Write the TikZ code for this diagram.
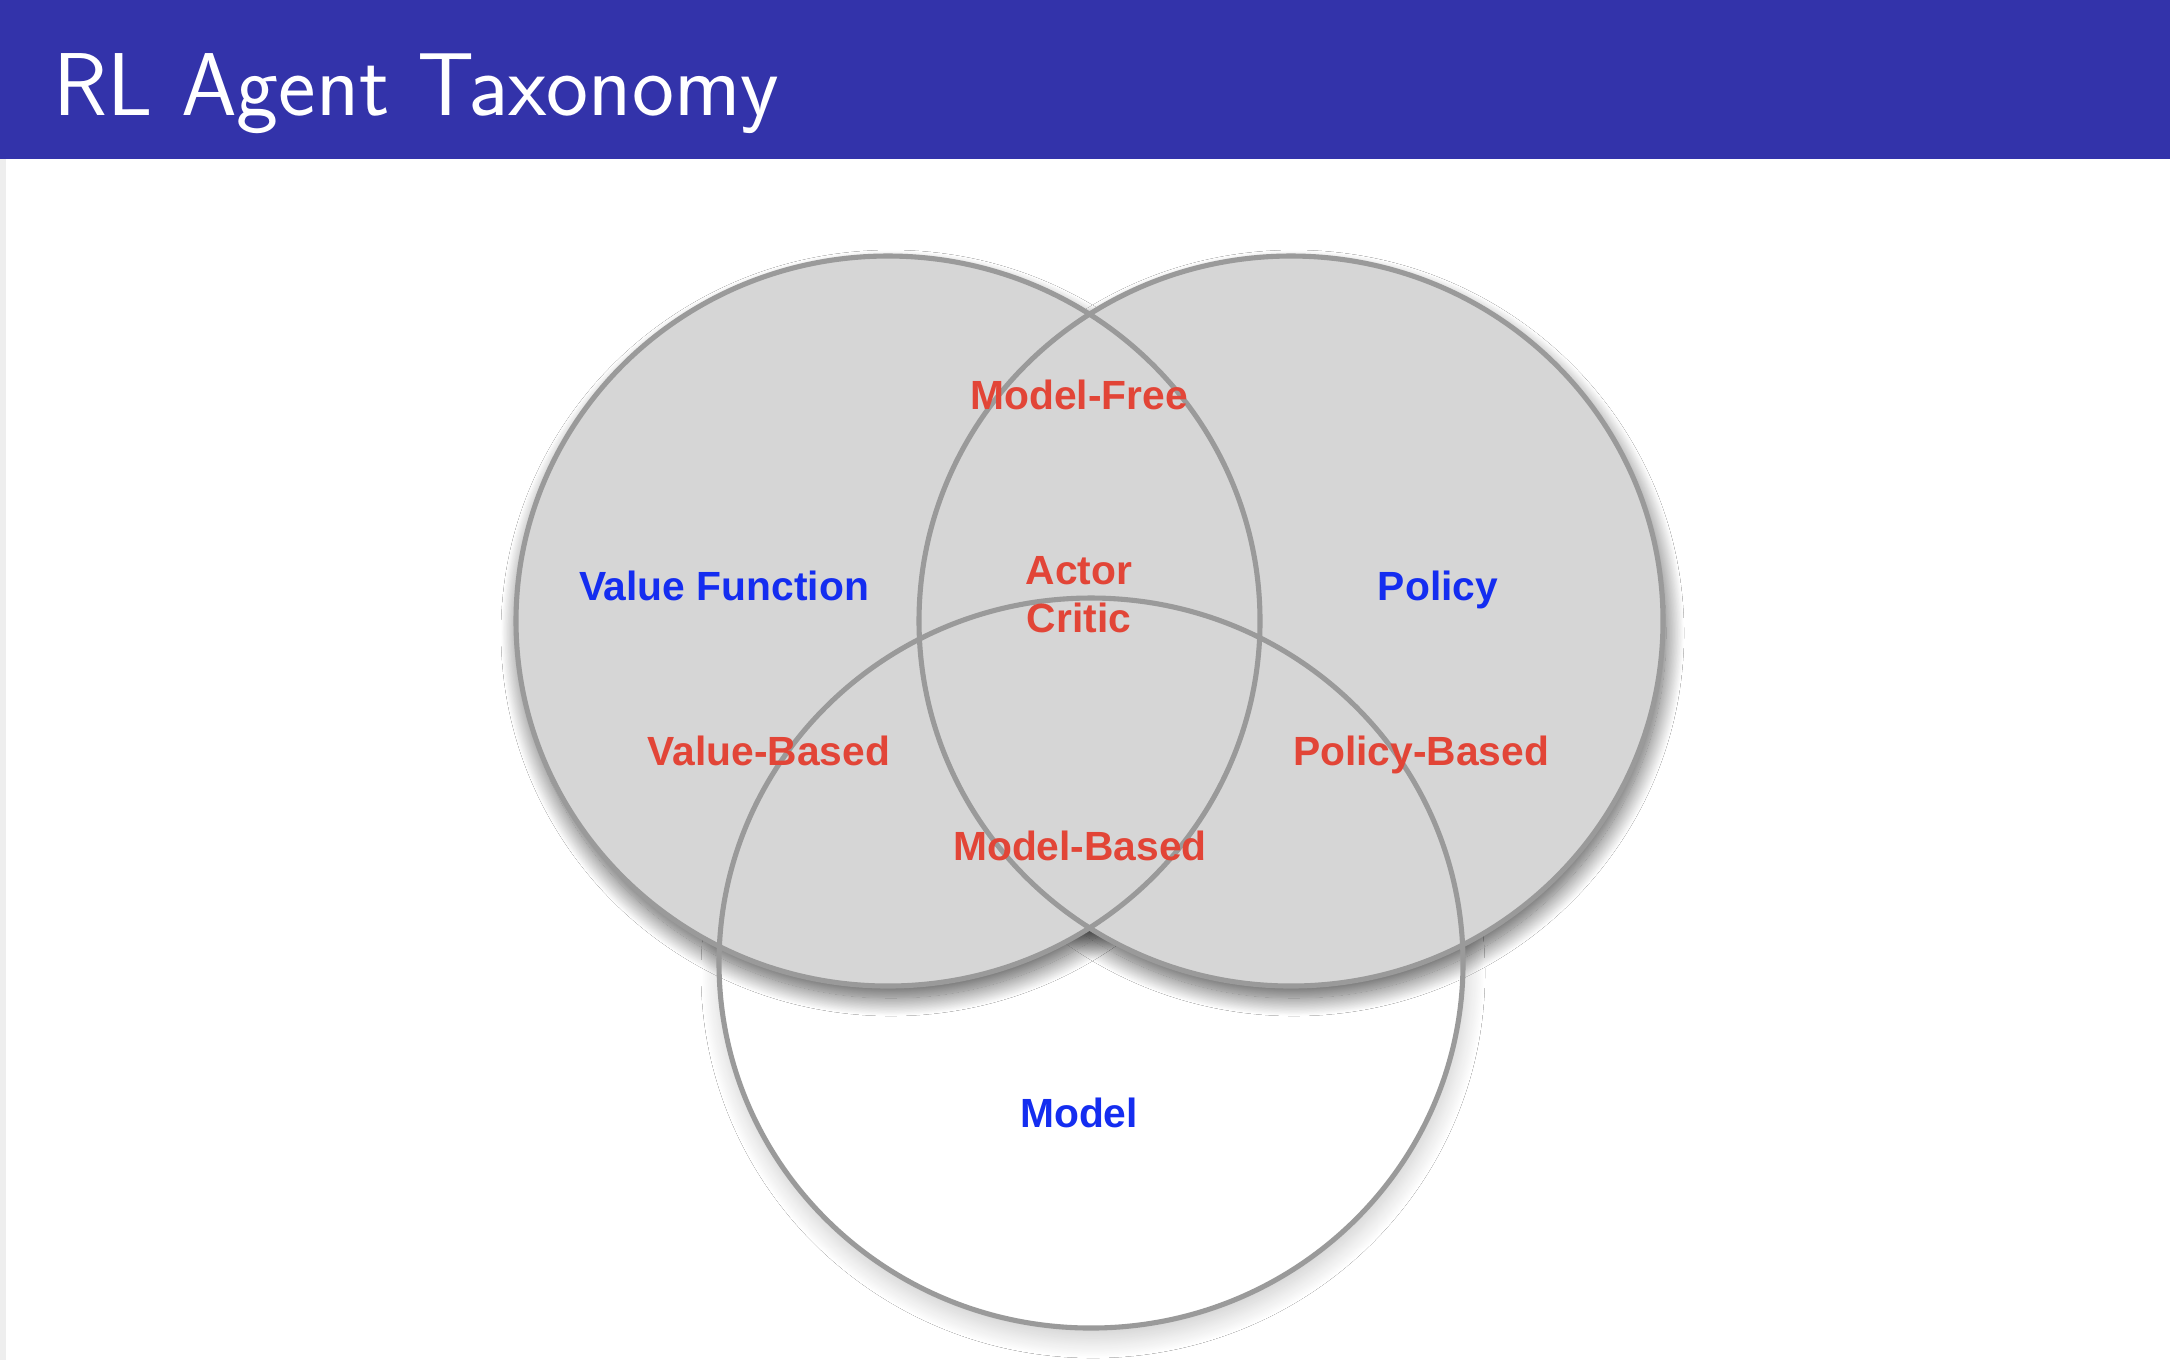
\documentclass[tikz,border=0pt]{standalone}
\usepackage{fontspec}
\newfontfamily\labfont{Liberation Sans}
\usetikzlibrary{shadows.blur}
\definecolor{hdrblue}{RGB}{51,51,170}
\definecolor{leftstrip}{RGB}{238,238,238}
\definecolor{circfill}{RGB}{214,214,214}
\definecolor{circline}{RGB}{154,154,154}
\definecolor{lblred}{RGB}{226,69,55}
\definecolor{lblblue}{RGB}{20,45,240}
\begin{document}
\begin{tikzpicture}[x=0.1mm,y=-0.1mm,
  rimline/.style={draw=circline,line width=1.45pt},
  darkshadow/.style={blur shadow={shadow xshift=0.3mm,shadow yshift=-1.2mm,shadow blur radius=1.8mm,shadow opacity=65,shadow blur steps=30}},
  softshadow/.style={blur shadow={shadow xshift=0.2mm,shadow yshift=-1.0mm,shadow blur radius=2mm,shadow opacity=22,shadow blur steps=30}},
  redlbl/.style={text=lblred,font=\labfont\bfseries\fontsize{11.6}{13.7}\selectfont,inner sep=0pt,align=center},
  bluelbl/.style={redlbl,text=lblblue}]
\useasboundingbox (0,0) rectangle (2170,1360);
\fill[white] (0,0) rectangle (2170,1360);
\fill[leftstrip] (0,159) rectangle (6,1360);
\fill[hdrblue] (0,0) rectangle (2170,159);
\node[anchor=base west,inner sep=0pt,text=white,font=\sffamily\fontsize{25.4}{30}\selectfont] (title) at (53,115) {RL Agent Taxonomy};

% Model circle (bottom)
\path[fill=white,softshadow] (1091,963) ellipse [x radius=372,y radius=365];
% shadows of the two upper circles
\path[darkshadow] (888,621) ellipse [x radius=372,y radius=365];
\path[darkshadow] (1291,621) ellipse [x radius=372,y radius=365];
% fills
\fill[circfill] (888,621) ellipse [x radius=372,y radius=365];
\fill[circfill] (1291,621) ellipse [x radius=372,y radius=365];
% outlines
\draw[rimline] (888,621) ellipse [x radius=372,y radius=365];
\draw[rimline] (1291,621) ellipse [x radius=372,y radius=365];
\draw[rimline] (1091,963) ellipse [x radius=372,y radius=365];

% labels
\node[bluelbl,anchor=base] (vf) at (724,600) {Value Function};
\node[bluelbl,anchor=base] (pol) at (1438,600) {Policy};
\node[bluelbl,anchor=base] (mod) at (1079,1127) {Model};
\node[redlbl,anchor=base] (mf) at (1079,409) {Model-Free};
\node[redlbl,anchor=center] (ac) at (1079,594.5) {Actor\\Critic};
\node[redlbl,anchor=base] (vb) at (769,765) {Value-Based};
\node[redlbl,anchor=base] (pb) at (1421,765) {Policy-Based};
\node[redlbl,anchor=base] (mb) at (1080,860) {Model-Based};
\end{tikzpicture}
\end{document}
